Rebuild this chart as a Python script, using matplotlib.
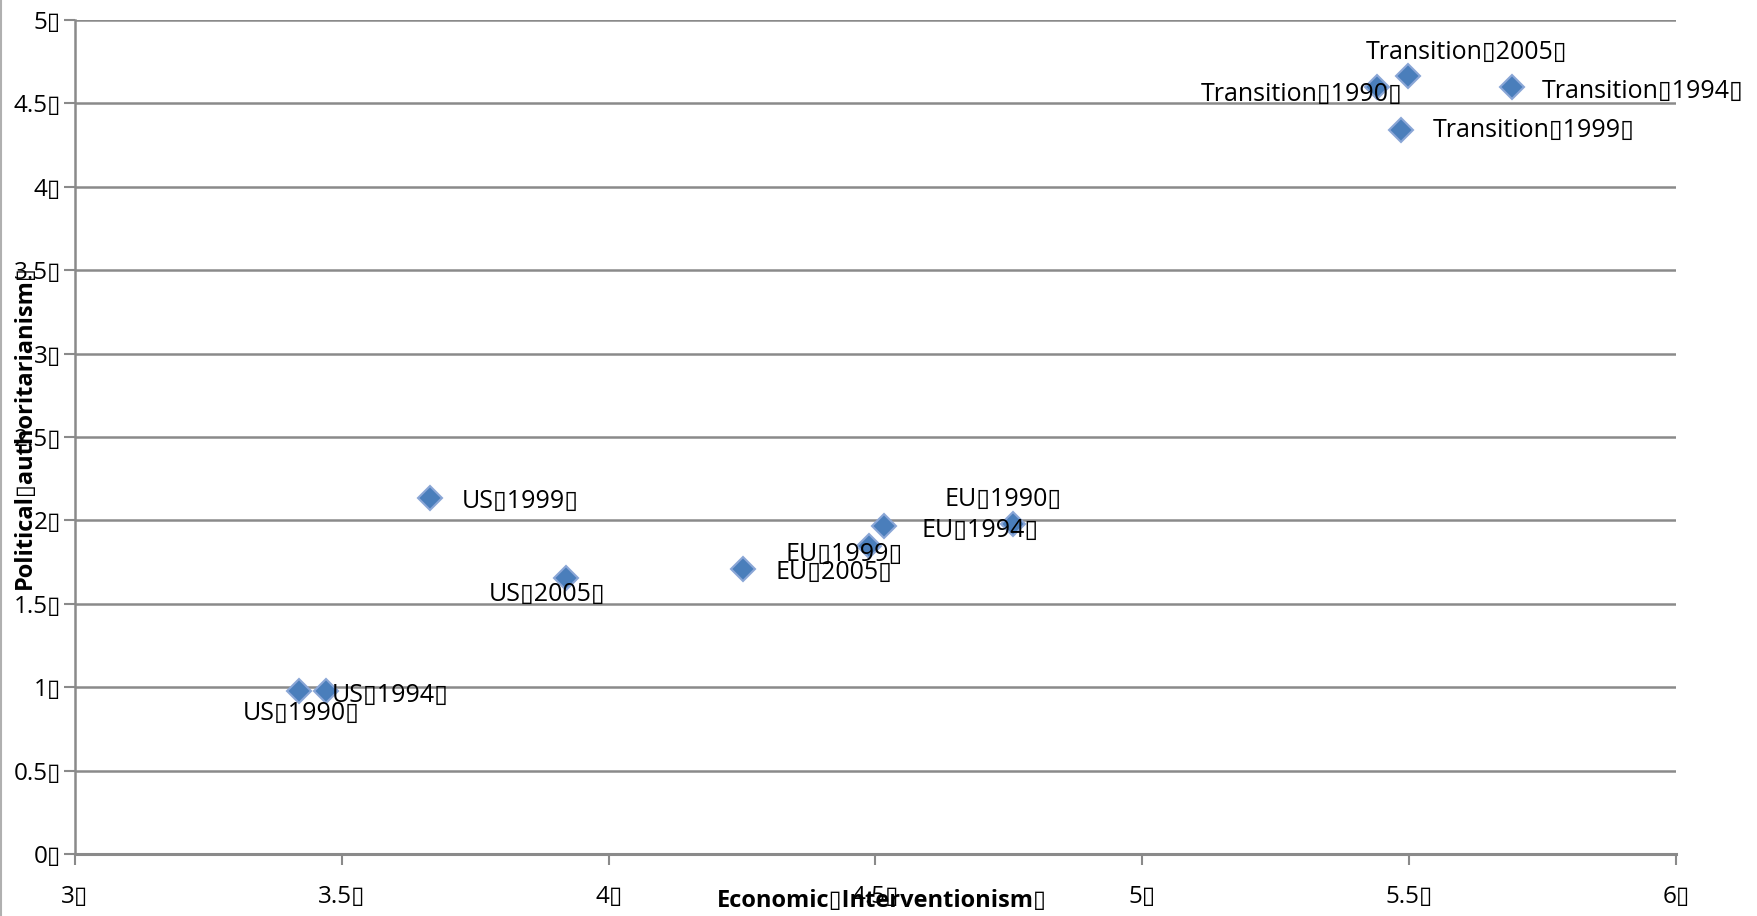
import matplotlib
matplotlib.use("Agg")
import matplotlib.pyplot as plt
from matplotlib.lines import Line2D

B = "\u25af"

labels = ["US" + B + "1990" + B, "US" + B + "1994" + B, "US" + B + "1999" + B, "US" + B + "2005" + B,
          "EU" + B + "1990" + B, "EU" + B + "1994" + B, "EU" + B + "1999" + B, "EU" + B + "2005" + B,
          "Transition" + B + "1990" + B, "Transition" + B + "1994" + B,
          "Transition" + B + "1999" + B, "Transition" + B + "2005" + B]
econ = [3.42, 3.47, 3.665, 3.92, 4.757, 4.515, 4.487, 4.252, 5.439, 5.693, 5.485, 5.498]
polit = [0.975, 0.975, 2.137, 1.653, 1.976, 1.969, 1.848, 1.707, 4.597, 4.597, 4.341, 4.664]

# label offsets (pixels) and alignment
offsets = [(2, -22, "center"), (6, -4, "left"), (32, -4, "left"), (-19, -16, "center"),
           (-10, 25, "center"), (38, -5, "left"), (-24, -9, "center"), (32, -3, "left"),
           (-75, -7, "center"), (30, -4, "left"), (32, -1, "left"), (58, 24, "center")]

xticks = [3, 3.5, 4, 4.5, 5, 5.5, 6]
xticklabels = ["3" + B, "3.5" + B, "4" + B, "4.5" + B, "5" + B, "5.5" + B, "6" + B]
yticks = [0, 0.5, 1, 1.5, 2, 2.5, 3, 3.5, 4, 4.5, 5]
yticklabels = ["0" + B, "0.5" + B, "1" + B, "1.5" + B, "2" + B, "2.5" + B, "3" + B,
               "3.5" + B, "4" + B, "4.5" + B, "5" + B]

plt.rcParams['font.family'] = ['Open Sans', 'DejaVu Sans']

fig = plt.figure(figsize=(17.58, 9.16), dpi=100)
ax = fig.add_axes([75 / 1758, 1 - 854 / 916, (1676 - 75) / 1758, (854 - 20) / 916])

grid_c = "#8a8a8a"
ax.set_xlim(3, 6)
ax.set_ylim(0, 5)
ax.set_yticks(yticks)
ax.set_yticklabels(yticklabels, fontsize=17.5)
ax.set_xticks(xticks)
ax.set_xticklabels(xticklabels, fontsize=17.5)
for y in yticks[1:]:
    ax.axhline(y, color=grid_c, lw=1.8, zorder=1)
for s in ["top", "right"]:
    ax.spines[s].set_visible(False)
ax.spines["left"].set_color(grid_c)
ax.spines["left"].set_linewidth(1.8)
ax.spines["bottom"].set_color(grid_c)
ax.spines["bottom"].set_linewidth(2.2)
ax.tick_params(axis="both", color=grid_c, width=1.5, length=8, direction="out")
ax.tick_params(axis="x", pad=14)
ax.tick_params(axis="y", pad=2)

ax.plot(econ, polit, linestyle="none", marker="D", markersize=12,
        markerfacecolor="#4a7ebb", markeredgecolor="#8aa6d6", markeredgewidth=1.5,
        zorder=3, clip_on=False)

for lab, x, y, (dx, dy, ha) in zip(labels, econ, polit, offsets):
    ax.annotate(lab, (x, y), xytext=(dx, dy), textcoords="offset pixels",
                ha=ha, va="center", fontsize=18, color="black", zorder=4)

ax.set_xlabel("Economic" + B + "Interventionism" + B, fontsize=17, fontweight="bold")
ax.set_ylabel("Political" + B + "authoritarianism" + B, fontsize=17, fontweight="bold")
ax.xaxis.set_label_coords(0.504, -0.056)
ax.xaxis.label.set_va("center")
ax.yaxis.set_label_coords(-0.031, 0.512)
ax.yaxis.label.set_va("center")

fig.add_artist(Line2D([0.0006, 0.0006], [0, 1], transform=fig.transFigure,
                      color="#b0b0b0", lw=1.5))

fig.savefig("out.png", dpi=100)
